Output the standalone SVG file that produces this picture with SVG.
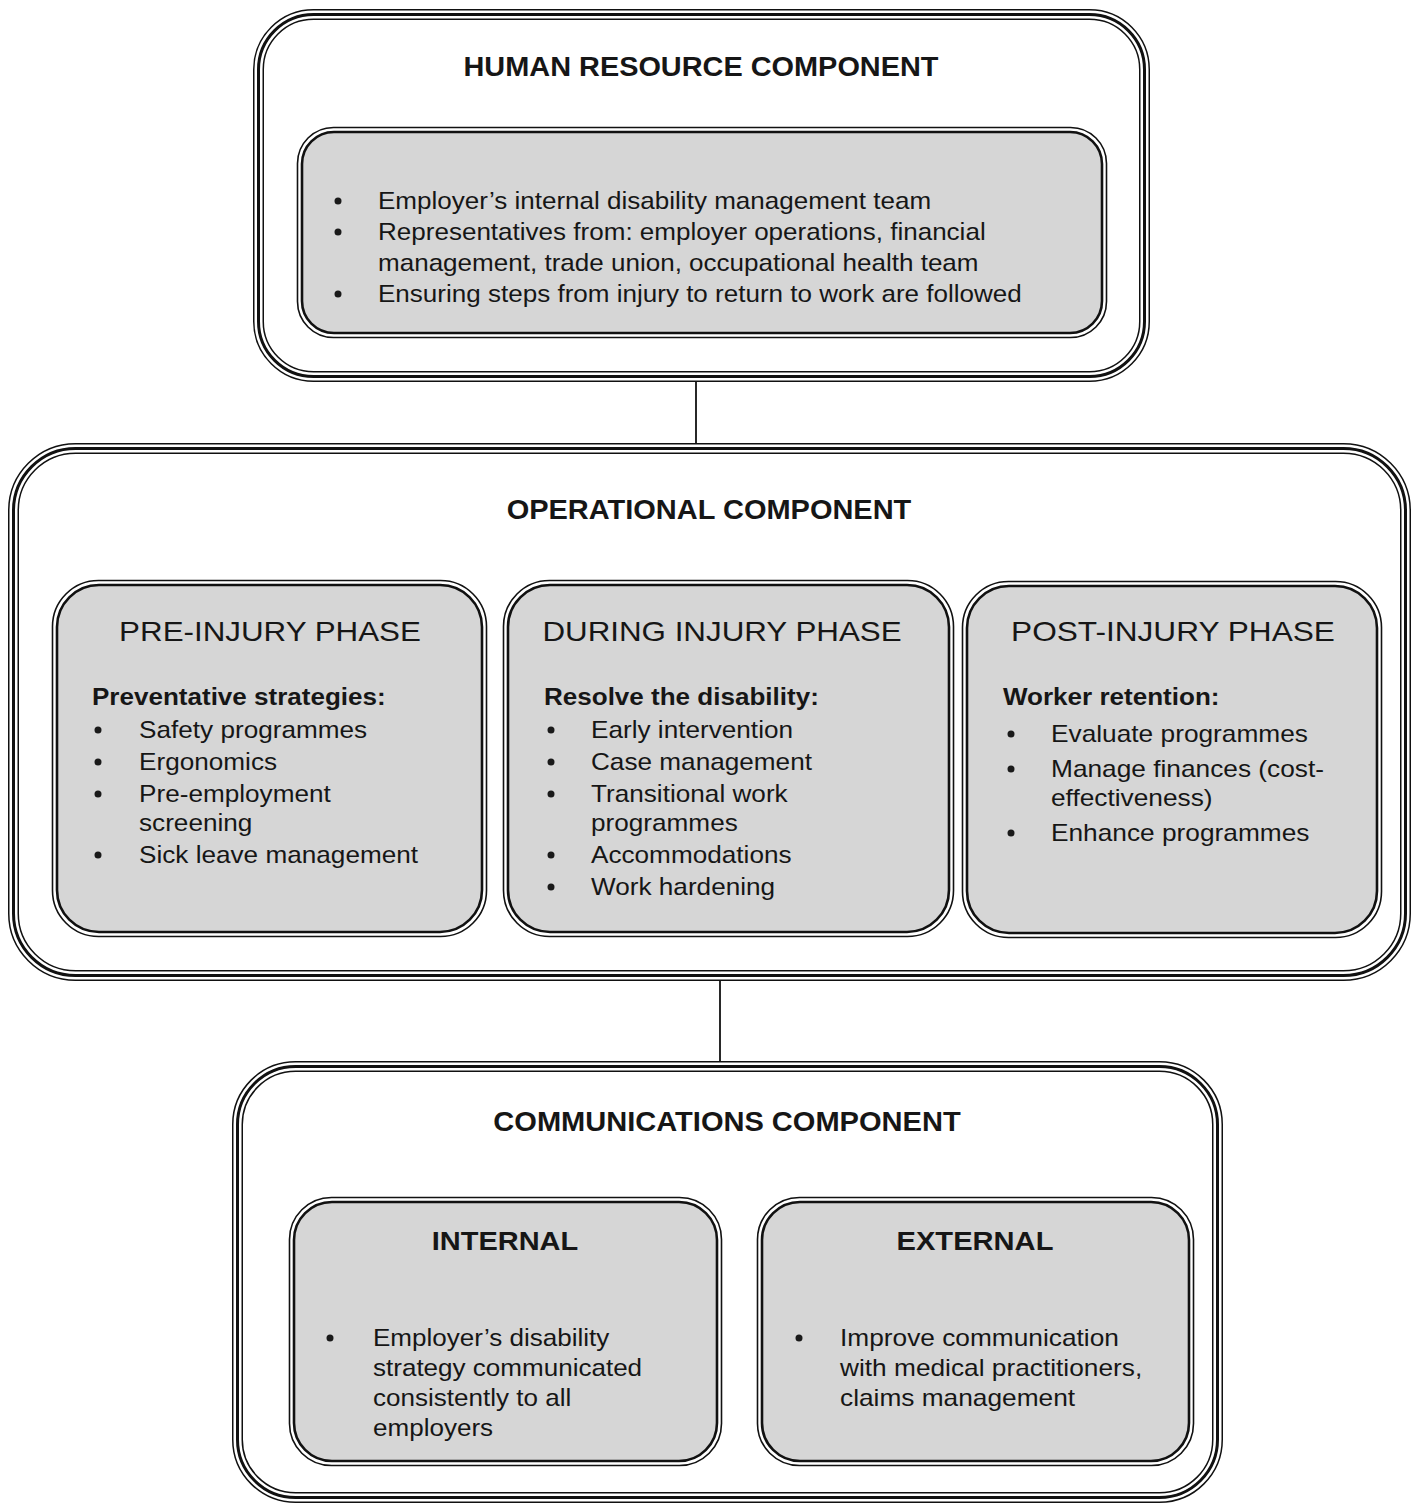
<svg xmlns="http://www.w3.org/2000/svg" width="1416" height="1505" viewBox="0 0 1416 1505">
<style>
  .t1 { fill: none; stroke: #111; stroke-width: 11; }
  .t2 { fill: none; stroke: #fff; stroke-width: 8; }
  .t3 { fill: none; stroke: #111; stroke-width: 3; }
  .bg { fill: #fff; }
  .io { fill: none; stroke: #111; stroke-width: 1.6; }
  .ii { fill: #d6d6d6; stroke: #111; stroke-width: 2.6; }
  text { font-family: "Liberation Sans", Arial, sans-serif; fill: #161616; }
  .h { font-weight: bold; font-size: 27px; text-anchor: middle; }
  .ph { font-size: 28.5px; text-anchor: middle; }
  .sub { font-weight: bold; font-size: 24px; }
  .b { font-size: 24px; }
  .dot { fill: #1a1a1a; }
  .con { stroke: #111; stroke-width: 1.8; fill: none; }
</style>
<rect width="1416" height="1505" fill="#fff"/>
<g id="connectors">
  <line class="con" x1="696" y1="382" x2="696" y2="444"/>
  <line class="con" x1="720" y1="980" x2="720" y2="1062"/>
</g>
<g id="hr-component">
  <rect class="bg" x="258.5" y="14.5" width="886" height="362" rx="55"/>
  <rect class="t1" x="258.5" y="14.5" width="886" height="362" rx="55"/>
  <rect class="t2" x="258.5" y="14.5" width="886" height="362" rx="55"/>
  <rect class="t3" x="258.5" y="14.5" width="886" height="362" rx="55"/>
  <text class="h" x="701" y="76" transform="translate(701 0) scale(1.07 1) translate(-701 0)">HUMAN RESOURCE COMPONENT</text>
</g>
<g id="hr-inner">
  <rect class="io" x="297.5" y="127.5" width="809" height="210" rx="36"/>
  <rect class="ii" x="302" y="132" width="800" height="201" rx="32"/>
  <circle class="dot" cx="338" cy="201" r="3.5"/>
  <circle class="dot" cx="338" cy="232" r="3.5"/>
  <circle class="dot" cx="338" cy="294" r="3.5"/>
  <g transform="translate(378 0) scale(1.085 1) translate(-378 0)">
    <text class="b" x="378" y="209">Employer’s internal disability management team</text>
    <text class="b" x="378" y="240">Representatives from: employer operations, financial</text>
    <text class="b" x="378" y="271">management, trade union, occupational health team</text>
    <text class="b" x="378" y="302">Ensuring steps from injury to return to work are followed</text>
  </g>
</g>
<g id="operational-component">
  <rect class="bg" x="13.5" y="448.5" width="1392" height="527" rx="62"/>
  <rect class="t1" x="13.5" y="448.5" width="1392" height="527" rx="62"/>
  <rect class="t2" x="13.5" y="448.5" width="1392" height="527" rx="62"/>
  <rect class="t3" x="13.5" y="448.5" width="1392" height="527" rx="62"/>
  <text class="h" x="709" y="519" transform="translate(709 0) scale(1.074 1) translate(-709 0)">OPERATIONAL COMPONENT</text>
</g>
<g id="pre-injury">
  <rect class="io" x="52.5" y="580.5" width="434" height="356" rx="46"/>
  <rect class="ii" x="57" y="585" width="425" height="347" rx="42"/>
  <text class="ph" x="270" y="641" transform="translate(270 0) scale(1.1 1) translate(-270 0)">PRE-INJURY PHASE</text>
  <circle class="dot" cx="98" cy="730" r="3.5"/>
  <circle class="dot" cx="98" cy="762" r="3.5"/>
  <circle class="dot" cx="98" cy="794" r="3.5"/>
  <circle class="dot" cx="98" cy="855" r="3.5"/>
  <g transform="translate(92 0) scale(1.085 1) translate(-92 0)">
    <text class="sub" x="92" y="705">Preventative strategies:</text>
  </g>
  <g transform="translate(139 0) scale(1.09 1) translate(-139 0)">
    <text class="b" x="139" y="738">Safety programmes</text>
    <text class="b" x="139" y="770">Ergonomics</text>
    <text class="b" x="139" y="802">Pre-employment</text>
    <text class="b" x="139" y="831">screening</text>
    <text class="b" x="139" y="863">Sick leave management</text>
  </g>
</g>
<g id="during-injury">
  <rect class="io" x="503.5" y="580.5" width="450" height="356" rx="46"/>
  <rect class="ii" x="508" y="585" width="441" height="347" rx="42"/>
  <text class="ph" x="722" y="641" transform="translate(722 0) scale(1.1 1) translate(-722 0)">DURING INJURY PHASE</text>
  <circle class="dot" cx="551" cy="730" r="3.5"/>
  <circle class="dot" cx="551" cy="762" r="3.5"/>
  <circle class="dot" cx="551" cy="794" r="3.5"/>
  <circle class="dot" cx="551" cy="855" r="3.5"/>
  <circle class="dot" cx="551" cy="887" r="3.5"/>
  <g transform="translate(544 0) scale(1.085 1) translate(-544 0)">
    <text class="sub" x="544" y="705">Resolve the disability:</text>
  </g>
  <g transform="translate(591 0) scale(1.09 1) translate(-591 0)">
    <text class="b" x="591" y="738">Early intervention</text>
    <text class="b" x="591" y="770">Case management</text>
    <text class="b" x="591" y="802">Transitional work</text>
    <text class="b" x="591" y="831">programmes</text>
    <text class="b" x="591" y="863">Accommodations</text>
    <text class="b" x="591" y="895">Work hardening</text>
  </g>
</g>
<g id="post-injury">
  <rect class="io" x="962.5" y="581.5" width="419" height="356" rx="46"/>
  <rect class="ii" x="967" y="586" width="410" height="347" rx="42"/>
  <text class="ph" x="1173" y="641" transform="translate(1173 0) scale(1.11 1) translate(-1173 0)">POST-INJURY PHASE</text>
  <circle class="dot" cx="1011" cy="734" r="3.5"/>
  <circle class="dot" cx="1011" cy="769" r="3.5"/>
  <circle class="dot" cx="1011" cy="833" r="3.5"/>
  <g transform="translate(1003 0) scale(1.085 1) translate(-1003 0)">
    <text class="sub" x="1003" y="705">Worker retention:</text>
  </g>
  <g transform="translate(1051 0) scale(1.095 1) translate(-1051 0)">
    <text class="b" x="1051" y="742">Evaluate programmes</text>
    <text class="b" x="1051" y="777">Manage finances (cost-</text>
    <text class="b" x="1051" y="806">effectiveness)</text>
    <text class="b" x="1051" y="841">Enhance programmes</text>
  </g>
</g>
<g id="communications-component">
  <rect class="bg" x="237.5" y="1066.5" width="980" height="431" rx="58"/>
  <rect class="t1" x="237.5" y="1066.5" width="980" height="431" rx="58"/>
  <rect class="t2" x="237.5" y="1066.5" width="980" height="431" rx="58"/>
  <rect class="t3" x="237.5" y="1066.5" width="980" height="431" rx="58"/>
  <text class="h" x="727" y="1131" transform="translate(727 0) scale(1.076 1) translate(-727 0)">COMMUNICATIONS COMPONENT</text>
</g>
<g id="internal">
  <rect class="io" x="289.5" y="1197.5" width="432" height="268" rx="42"/>
  <rect class="ii" x="294" y="1202" width="423" height="259" rx="38"/>
  <text class="h" x="505" y="1250" style="font-size:26px" transform="translate(505 0) scale(1.115 1) translate(-505 0)">INTERNAL</text>
  <circle class="dot" cx="330" cy="1338" r="3.5"/>
  <g transform="translate(373 0) scale(1.085 1) translate(-373 0)">
    <text class="b" x="373" y="1346">Employer’s disability</text>
    <text class="b" x="373" y="1376">strategy communicated</text>
    <text class="b" x="373" y="1406">consistently to all</text>
    <text class="b" x="373" y="1436">employers</text>
  </g>
</g>
<g id="external">
  <rect class="io" x="757.5" y="1197.5" width="436" height="268" rx="42"/>
  <rect class="ii" x="762" y="1202" width="427" height="259" rx="38"/>
  <text class="h" x="975" y="1250" style="font-size:26px" transform="translate(975 0) scale(1.12 1) translate(-975 0)">EXTERNAL</text>
  <circle class="dot" cx="799" cy="1338" r="3.5"/>
  <g transform="translate(840 0) scale(1.095 1) translate(-840 0)">
    <text class="b" x="840" y="1346">Improve communication</text>
    <text class="b" x="840" y="1376">with medical practitioners,</text>
    <text class="b" x="840" y="1406">claims management</text>
  </g>
</g>
</svg>
